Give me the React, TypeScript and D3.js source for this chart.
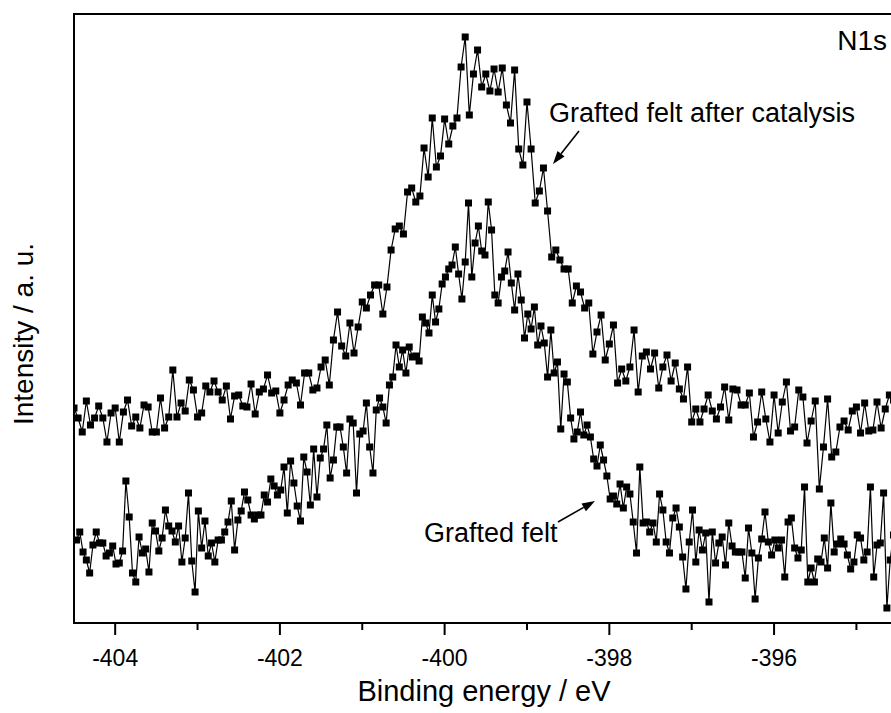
import * as d3 from "d3";

// N1s XPS spectra, intensities in arbitrary units
const upperStart = -404.5;
const upperStep = 0.05;
const lowerStart = -404.47;
const lowerStep = 0.04;

const afterCatalysis = [
  215, 205, 191, 222, 198, 205, 217, 205, 181, 210, 215, 181, 211, 223, 197, 206, 195, 218, 216, 191,
  191, 225, 195, 206, 253, 206, 220, 212, 243, 233, 206, 210, 237, 231, 242, 231, 223, 237, 204, 227,
  228, 217, 216, 239, 209, 231, 234, 248, 230, 232, 210,
  223, 238, 243, 240, 218, 250, 250, 233, 235, 256, 263, 238, 283, 311, 277, 267, 300, 270, 296, 321,
  315, 328, 338, 338, 309, 336, 373,
  394, 397, 389, 431, 435, 421, 427, 475, 446, 505, 456, 467, 504, 479, 497, 505, 556, 586, 508, 549,
  573, 536, 549, 532, 554, 531, 555, 518, 500, 553, 474, 458, 521, 474, 420, 432, 455, 412, 366,
  373, 363, 354, 354, 320, 337, 331, 315, 320, 269, 291, 308, 263, 279, 298, 240, 254, 242, 256, 293,
  231, 267, 271, 254, 270, 235, 256, 268, 242, 260, 234, 224, 256, 201, 214, 201,
  214, 228, 212, 204, 216, 236, 203, 234, 233, 218, 218, 230, 186, 201, 231, 204, 181, 228, 190, 221,
  241, 192, 196, 233, 226, 180, 202, 222, 134, 176, 224, 166, 171, 196, 202, 193, 212, 216, 190, 220,
  192, 193, 221, 195, 214, 228, 223,
];

const graftedFelt = [
  83, 91, 71, 63, 50, 78, 91, 80, 80, 67, 70, 77, 59, 60, 72, 142, 106, 50, 41, 86,
  70, 74, 51, 100, 92, 72, 85, 113, 97, 92, 81, 97, 61, 85, 130, 62, 31, 112, 75, 102,
  67, 80, 61, 83, 83, 91, 101, 122, 73, 103, 112, 131, 123, 108, 104, 108, 108, 128, 121, 144,
  137, 128,
  133, 156, 110, 162, 140, 117, 102, 166, 151, 118, 174, 126, 165, 174, 198, 145, 163, 196, 196, 176,
  150, 204, 200, 130, 189, 192, 220, 176, 150, 213, 225, 216, 200, 238, 246, 278, 256, 273, 250, 276,
  266, 267, 262, 306, 300, 290, 328, 301, 314, 339, 346, 354, 358,
  376, 349, 324, 361, 420, 346, 380, 397, 372, 368, 421, 393, 328, 320, 346, 352, 371, 340, 313, 349,
  323, 285, 309, 294, 316, 278, 297, 280, 246, 293, 250, 261, 194, 249,
  241, 205, 184, 191, 211, 188, 198, 186, 164, 157, 178, 163, 147, 124, 127, 119, 139, 115, 136, 129,
  101, 70, 156, 100, 101, 91, 100, 81, 129, 113, 81, 70, 105, 115, 96, 66, 34, 81, 113, 61,
  93,
  73, 90, 21, 91, 60, 80, 86, 58, 100, 77, 71, 71, 71, 45, 95, 70, 24, 65, 84, 111,
  81, 68, 83, 75, 83, 46, 101, 105, 75, 65, 73, 136, 41, 55, 41, 64, 61, 85, 55, 120,
  71, 79, 84, 79, 68, 54, 61, 88, 85, 63, 71, 136, 46, 78, 80, 130, 15, 63,
  88, 72,
];

const majorTicks = [-404, -402, -400, -398, -396];
const minorTicks = [-403, -401, -399, -397, -395];

const font = "'Liberation Sans', Arial, Helvetica, sans-serif";

type Pt = [number, number];

function Arrow({ from, to }: { from: Pt; to: Pt }) {
  const dx = to[0] - from[0];
  const dy = to[1] - from[1];
  const len = Math.hypot(dx, dy);
  const ux = dx / len;
  const uy = dy / len;
  const headLen = 13;
  const headW = 4.5;
  const bx = to[0] - ux * headLen;
  const by = to[1] - uy * headLen;
  const pts = [
    [to[0], to[1]],
    [bx - uy * headW, by + ux * headW],
    [bx + uy * headW, by - ux * headW],
  ];
  return (
    <g>
      <line x1={from[0]} y1={from[1]} x2={bx} y2={by} stroke="#000" strokeWidth={1.6} />
      <polygon points={pts.map((p) => p.join(",")).join(" ")} fill="#000" />
    </g>
  );
}

function Series({ energies, values, x, y }: {
  energies: number[];
  values: number[];
  x: d3.ScaleLinear<number, number>;
  y: d3.ScaleLinear<number, number>;
}) {
  const pts: Pt[] = values.map((v, i) => [x(energies[i]), y(v)]);
  const line = d3.line();
  const s = 7;
  return (
    <g>
      <path d={line(pts) ?? ""} fill="none" stroke="#000" strokeWidth={1.2} />
      {pts.map(([px, py], i) => (
        <rect key={i} x={px - s / 2} y={py - s / 2} width={s} height={s} fill="#000" />
      ))}
    </g>
  );
}

export default function App() {
  const width = 891;
  const height = 713;
  const left = 74;
  const top = 14;
  const bottom = 623;

  const x = d3.scaleLinear().domain([-404.5, -394.5]).range([left, 897.6]);
  const y = d3.scaleLinear().domain([0, 609]).range([bottom, top]);

  const upperE = afterCatalysis.map((_, i) => upperStart + upperStep * i);
  const lowerE = graftedFelt.map((_, i) => lowerStart + lowerStep * i);

  const right = x(-394.5);

  return (
    <svg
      width={width}
      height={height}
      style={{ position: "absolute", left: 0, top: 0, background: "#fff" }}
      fontFamily={font}
    >
      <defs>
        <clipPath id="plot">
          <rect x={left} y={top} width={right - left} height={bottom - top} />
        </clipPath>
      </defs>
      <g clipPath="url(#plot)">
        <Series energies={upperE} values={afterCatalysis} x={x} y={y} />
        <Series energies={lowerE} values={graftedFelt} x={x} y={y} />
      </g>

      {/* frame */}
      <path
        d={`M${left},${bottom}V${top}H${right}V${bottom}Z`}
        fill="none"
        stroke="#000"
        strokeWidth={2}
      />

      {/* ticks */}
      {majorTicks.map((t) => (
        <g key={t}>
          <line x1={x(t)} x2={x(t)} y1={bottom} y2={bottom + 12} stroke="#000" strokeWidth={2} />
          <text x={x(t)} y={666} textAnchor="middle" fontSize={23}>
            {t}
          </text>
        </g>
      ))}
      {minorTicks.map((t) => (
        <line key={t} x1={x(t)} x2={x(t)} y1={bottom} y2={bottom + 7} stroke="#000" strokeWidth={2} />
      ))}

      <text x={484} y={701} textAnchor="middle" fontSize={29}>
        Binding energy / eV
      </text>
      <text
        transform={`translate(33, 334) rotate(-90)`}
        textAnchor="middle"
        fontSize={28}
      >
        Intensity / a. u.
      </text>

      <text x={887} y={50} textAnchor="end" fontSize={28}>
        N1s
      </text>
      <text x={549} y={122} fontSize={27}>
        Grafted felt after catalysis
      </text>
      <Arrow from={[579, 131]} to={[553, 164]} />
      <text x={424} y={542} fontSize={27}>
        Grafted felt
      </text>
      <Arrow from={[558, 522]} to={[595, 501]} />
    </svg>
  );
}
